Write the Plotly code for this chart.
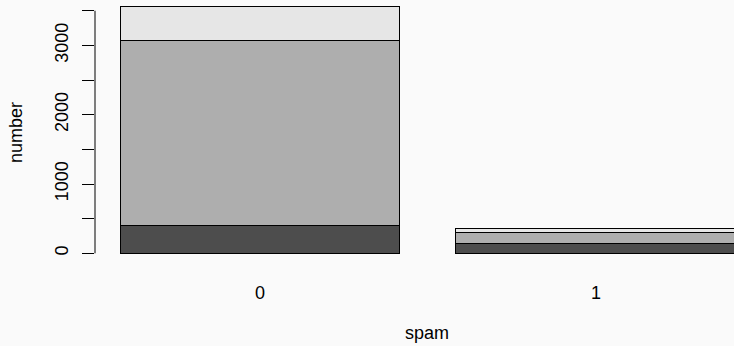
import plotly.graph_objects as go

# Data
spam_levels = ["0", "1"]
series_names = ["level 1", "level 2", "level 3"]
level1 = [398, 144]
level2 = [2669, 163]
level3 = [497, 54]
bar_colors = ["#4D4D4D", "#AEAEAE", "#E6E6E6"]

y_tickvals = [0, 500, 1000, 1500, 2000, 2500, 3000, 3500]
y_ticktext = ["0", "", "1000", "", "2000", "", "3000", ""]

# R barplot positions (width 1, space 0.2)
xpos = [0.7 + 1.2 * i for i in range(len(spam_levels))]

fig = go.Figure()
for name, vals, col in zip(series_names, [level1, level2, level3], bar_colors):
    fig.add_trace(go.Bar(
        x=xpos, y=vals, name=name, width=1.0,
        marker=dict(color=col, line=dict(color="#000000", width=1)),
        showlegend=False, hoverinfo="y",
    ))

font = "Liberation Sans, Arial, Helvetica, sans-serif"
bg = "#FAFAFA"

fig.update_layout(
    width=734, height=346,
    margin=dict(l=95, r=0, t=0, b=83, pad=0),
    barmode="stack",
    paper_bgcolor=bg, plot_bgcolor=bg,
    font=dict(family=font, size=18, color="#000000"),
    xaxis=dict(
        range=[0.1107, 2.393],
        tickvals=xpos, ticktext=spam_levels,
        showgrid=False, zeroline=False, showline=False,
        ticks="", ticklabelstandoff=17,
        tickfont=dict(size=18, family=font, color="#000000"),
    ),
    yaxis=dict(
        range=[-140, 3655],
        tickvals=y_tickvals, ticktext=y_ticktext,
        showgrid=False, zeroline=False, showline=False,
        ticks="outside", ticklen=12, tickwidth=1, tickcolor="#000000",
        tickangle=-90, ticklabelstandoff=7,
        tickfont=dict(size=18, family=font, color="#000000"),
    ),
    shapes=[dict(type="line", xref="paper", yref="y", x0=0, x1=0,
                 y0=y_tickvals[0], y1=y_tickvals[-1],
                 line=dict(color="#000000", width=1))],
    annotations=[
        dict(text="spam", xref="x", yref="paper", x=1.296, y=-0.3118,
             showarrow=False, xanchor="center", yanchor="bottom",
             font=dict(size=18, family=font, color="#000000")),
        dict(text="number", xref="paper", yref="paper", x=-0.1236, y=0.494,
             showarrow=False, xanchor="center", yanchor="middle", textangle=-90,
             font=dict(size=18, family=font, color="#000000")),
    ],
)

fig.write_html(
    "out.html",
    config={"displayModeBar": False},
    post_script="document.body.style.margin='0';document.body.style.padding='0';"
                "document.body.style.overflow='hidden';"
                "document.body.style.background='#FAFAFA';",
)
